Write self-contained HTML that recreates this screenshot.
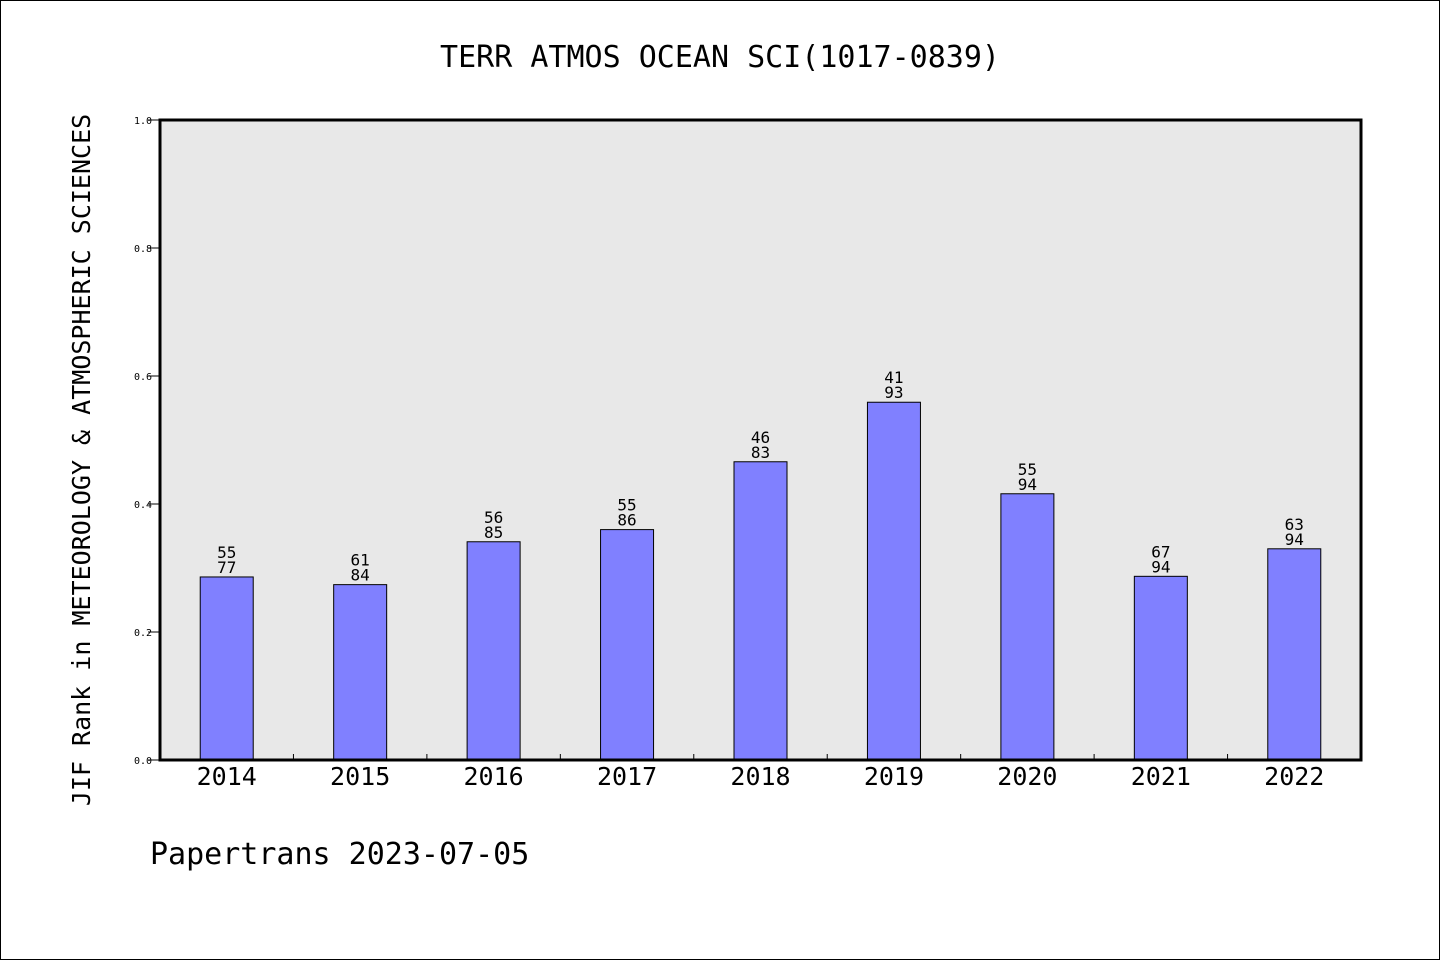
<!DOCTYPE html>
<html><head><meta charset="utf-8"><style>
html,body{margin:0;padding:0;background:#fff}
svg{display:block}
text{font-family:"DejaVu Sans Mono","Liberation Mono",monospace;fill:#000}
</style></head><body>
<svg id="chart" width="1440" height="960" viewBox="0 0 1440 960" xmlns="http://www.w3.org/2000/svg">
<rect x="0.5" y="0.5" width="1439" height="959" fill="#fff" stroke="#000"/>
<text x="720" y="67" font-size="30" text-anchor="middle">TERR ATMOS OCEAN SCI(1017-0839)</text>
<rect x="160" y="120" width="1201" height="640" fill="#e8e8e8"/>
<g id="bars"></g>
<rect x="160" y="120" width="1201" height="640" fill="none" stroke="#000" stroke-width="3"/>
<g id="axes"></g>
<text transform="translate(90,460) rotate(-90)" font-size="25" text-anchor="middle">JIF Rank in METEOROLOGY &amp; ATMOSPHERIC SCIENCES</text>
<text x="150" y="864" font-size="30">Papertrans 2023-07-05</text>
</svg>
<script>
const years = ["2014","2015","2016","2017","2018","2019","2020","2021","2022"];
const values = [0.286,0.274,0.341,0.360,0.466,0.559,0.416,0.287,0.330];
const ranks = ["55","61","56","55","46","41","55","67","63"];
const totals = ["77","84","85","86","83","93","94","94","94"];
const yTicks = [0,0.2,0.4,0.6,0.8,1.0];
const yTickLabels = ["0.0","0.2","0.4","0.6","0.8","1.0"];

const NS="http://www.w3.org/2000/svg";
const L=160,R=1361,T=120,B=760;
const slot=(R-L)/years.length;
const xc=i=>L+slot*(i+0.5);
const y=v=>B-(v)*(B-T);
const bw=53;
function mk(tag,attrs,parent){const e=document.createElementNS(NS,tag);for(const k in attrs)e.setAttribute(k,attrs[k]);parent.appendChild(e);return e;}
const bars=document.getElementById('bars');
const axes=document.getElementById('axes');
years.forEach((yr,i)=>{
  const r=mk('rect',{x:xc(i)-bw/2,y:y(values[i]),width:bw,height:B-y(values[i]),fill:'#8080ff',stroke:'#000','stroke-width':1},bars);
  
  
  const t1=mk('text',{x:xc(i),y:y(values[i])-19,'font-size':16,'text-anchor':'middle'},bars);
  t1.textContent=ranks[i];
  
  
  const t2=mk('text',{x:xc(i),y:y(values[i])-4,'font-size':16,'text-anchor':'middle'},bars);
  t2.textContent=totals[i];
  
  
  const xl=mk('text',{x:xc(i),y:785,'font-size':25,'text-anchor':'middle'},axes);
  xl.textContent=yr;
  
  
  if(i>0){
    const tk=mk('line',{x1:L+slot*i,x2:L+slot*i,y1:B,y2:B-6,stroke:'#000','stroke-width':1},axes);
    
    
  }
});
yTicks.forEach((v,i)=>{
  const tk=mk('line',{x1:L-12,x2:L,y1:y(v),y2:y(v),stroke:'#000','stroke-width':1},axes);
  
  
  const tl=mk('text',{x:152,y:y(v)+4,'font-size':10,'text-anchor':'end'},axes);
  tl.textContent=yTickLabels[i];
  
  
});
</script>
</body></html>
